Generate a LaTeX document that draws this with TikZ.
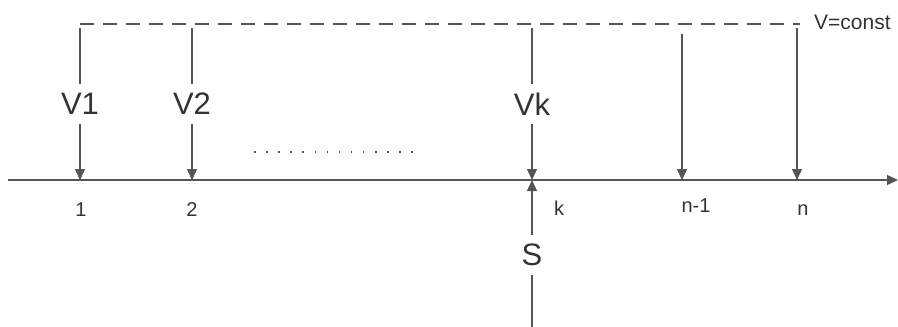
\documentclass[tikz,border=0pt]{standalone}
\usepackage{fontspec}
\setmainfont{Liberation Sans}
\usetikzlibrary{arrows.meta}
\definecolor{ln}{HTML}{555555}
\definecolor{tx}{HTML}{333333}
\tikzset{
  base/.style={draw=ln, line width=1.4pt},
  arr/.style={base, -{Triangle[length=11pt,width=10pt]}},
  dashline/.style={base, dash pattern=on 14pt off 9pt},
  biglabel/.style={text=tx, font=\fontsize{31}{31}\selectfont, inner sep=0pt},
  smalllabel/.style={text=tx, font=\fontsize{20}{20}\selectfont, inner sep=0pt},
  tinylabel/.style={text=tx, font=\fontsize{21}{21}\selectfont, inner sep=0pt, anchor=west}
}
\begin{document}
\begin{tikzpicture}[x=1pt,y=-1pt]
\useasboundingbox (0,0) rectangle (898,327);
% coordinates
\coordinate (axL) at (8,180);
\coordinate (axR) at (898,180);
\coordinate (dL) at (80,24);
\coordinate (dR) at (800,24);
\foreach \n/\x in {a/80,b/192,k/532}{
  \coordinate (top\n) at (\x,28);
  \coordinate (u\n) at (\x,84);
  \coordinate (l\n) at (\x,124);
  \coordinate (bot\n) at (\x,180);
}
\coordinate (topm) at (682,34);
\coordinate (botm) at (682,180);
\coordinate (topn) at (797,28);
\coordinate (botn) at (797,180);
\coordinate (sbot) at (532,327);
\coordinate (slow) at (532,275);
\coordinate (sup) at (532,235);
\coordinate (dotsL) at (254.2,152);
\coordinate (dotsR) at (414,152);
% axis and dashed line
\draw[arr] (axL) -- (axR);
\draw[dashline] (dL) -- (dR);
\node[tinylabel] (vconst) at (814,22) {V=const};
% vertical arrows with labels
\node[biglabel] (V1) at (80,104) {V1};
\node[biglabel] (V2) at (192,104) {V2};
\node[biglabel] (Vk) at (532,104) {Vk};
\draw[base] (topa) -- (ua);
\draw[arr] (la) -- (bota);
\draw[base] (topb) -- (ub);
\draw[arr] (lb) -- (botb);
\draw[base] (topk) -- (uk);
\draw[arr] (lk) -- (botk);
\draw[arr] (topm) -- (botm);
\draw[arr] (topn) -- (botn);
% S arrow
\node[biglabel] (S) at (532,255) {S};
\draw[base] (sbot) -- (slow);
\draw[arr] (sup) -- (botk);
% dots
\draw[ln, line width=1.6pt, dash pattern=on 1.6pt off 10.47pt] (dotsL) -- (dotsR);
% small labels
\node[smalllabel] (n1) at (81,210) {1};
\node[smalllabel] (n2) at (192,210) {2};
\node[smalllabel] (nk) at (559,208) {k};
\node[smalllabel] (nm) at (696,206) {n-1};
\node[smalllabel] (nn) at (803,210) {n};
\end{tikzpicture}
\end{document}
